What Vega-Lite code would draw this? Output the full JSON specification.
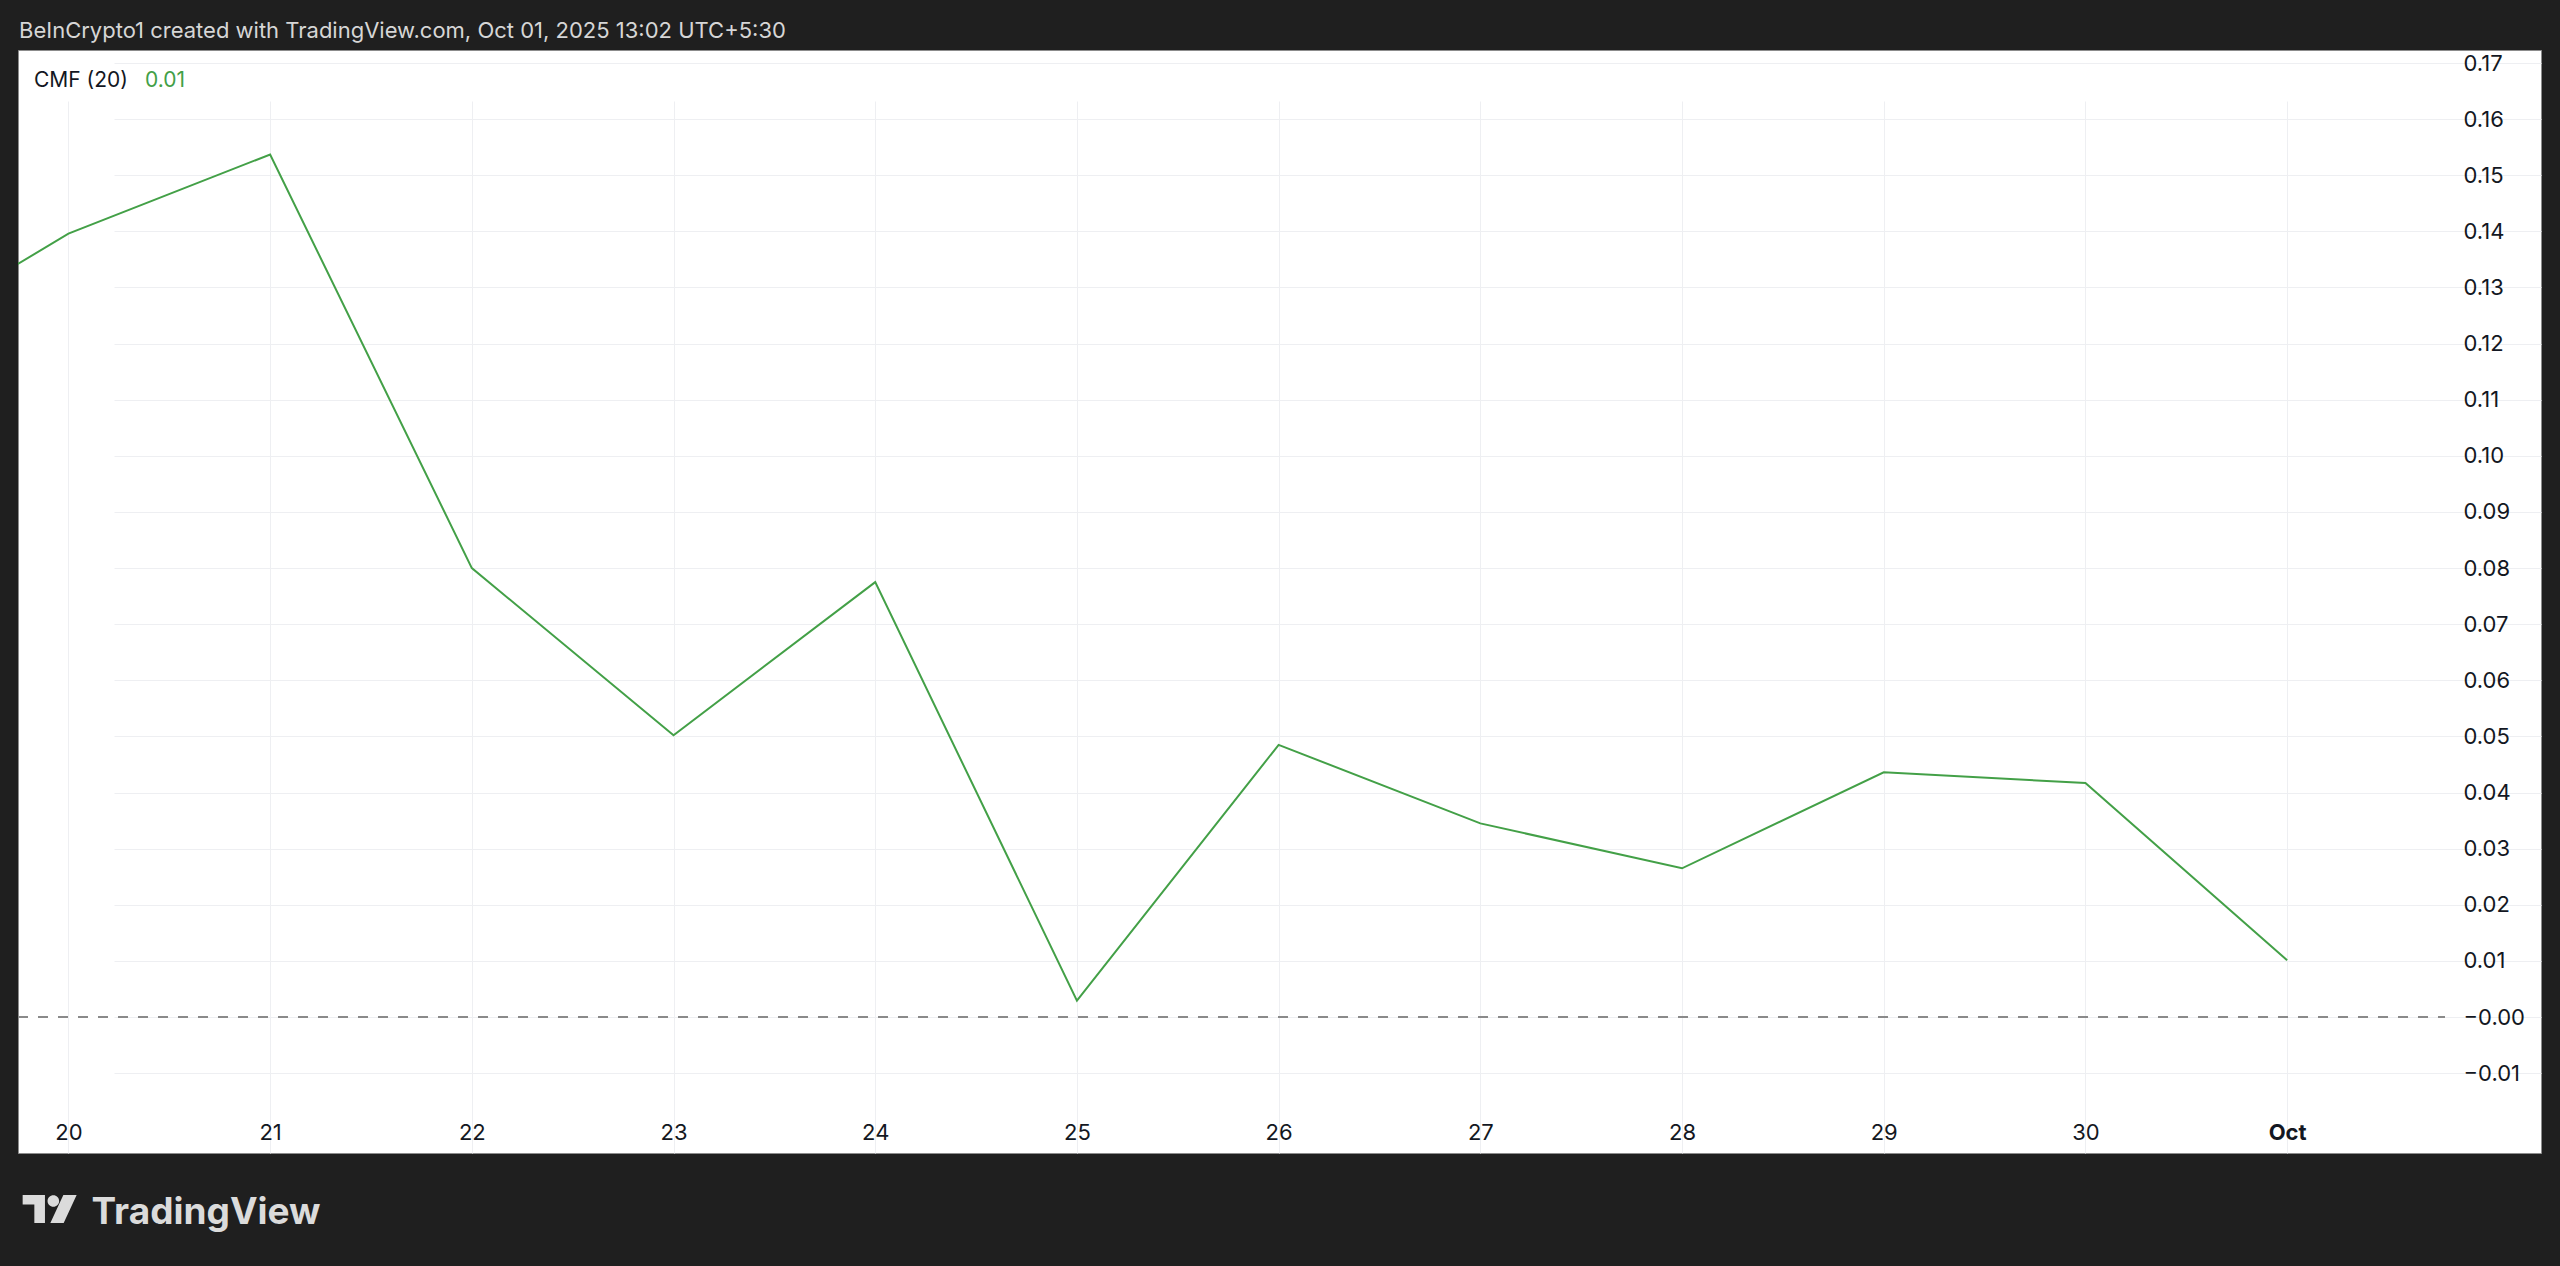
{
  "$schema": "https://vega.github.io/schema/vega-lite/v6.json",
  "width": 2523,
  "height": 1103,
  "autosize": "none",
  "padding": {"left": 18, "top": 50, "right": 19, "bottom": 113},
  "background": "#1f1f1f",
  "config": {
    "view": {"fill": "#ffffff", "stroke": "#8c8c8c", "strokeWidth": 1},
    "font": "Inter"
  },
  "title": {
    "text": "BeInCrypto1 created with TradingView.com, Oct 01, 2025 13:02 UTC+5:30",
    "anchor": "start",
    "frame": "group",
    "orient": "top",
    "baseline": "alphabetic",
    "offset": 14,
    "dx": 1,
    "dy": 24,
    "font": "Inter",
    "fontSize": 22,
    "fontWeight": "normal",
    "color": "#d6d6d6"
  },
  "data": {
    "values": [
      {"date": "2025-09-19", "cmf": 0.118},
      {"date": "2025-09-20", "cmf": 0.1396},
      {"date": "2025-09-21", "cmf": 0.1537},
      {"date": "2025-09-22", "cmf": 0.0800},
      {"date": "2025-09-23", "cmf": 0.0502},
      {"date": "2025-09-24", "cmf": 0.0775},
      {"date": "2025-09-25", "cmf": 0.0029},
      {"date": "2025-09-26", "cmf": 0.0485},
      {"date": "2025-09-27", "cmf": 0.0345},
      {"date": "2025-09-28", "cmf": 0.0265},
      {"date": "2025-09-29", "cmf": 0.0436},
      {"date": "2025-09-30", "cmf": 0.0417},
      {"date": "2025-10-01", "cmf": 0.0101}
    ]
  },
  "layer": [
    {
      "mark": {"type": "rule", "color": "#8a8a8a", "strokeWidth": 2, "strokeDash": [10, 10]},
      "encoding": {
        "x": {"datum": {"year": 2025, "month": 9, "date": 19, "hours": 18, "utc": true}, "type": "temporal"},
        "x2": {"datum": {"year": 2025, "month": 10, "date": 1, "hours": 18, "minutes": 47, "utc": true}},
        "y": {"datum": 0, "type": "quantitative"}
      }
    },
    {
      "mark": {"type": "line", "color": "#43a047", "strokeWidth": 2, "clip": true},
      "encoding": {
        "x": {
          "field": "date",
          "type": "temporal",
          "scale": {
            "type": "utc",
            "domain": [
              {"year": 2025, "month": 9, "date": 19, "hours": 18, "utc": true},
              {"year": 2025, "month": 10, "date": 1, "hours": 18, "minutes": 47, "utc": true}
            ],
            "range": [0, 2427],
            "nice": false
          },
          "axis": {
            "orient": "bottom",
            "offset": -51,
            "domain": false,
            "ticks": false,
            "tickSize": 0,
            "tickCount": {"interval": "day", "step": 1},
            "grid": true,
            "gridColor": "#eeeff2",
            "gridWidth": 1,
            "labelExpr": "utcdate(datum.value) === 1 ? utcFormat(datum.value, '%b') : '' + utcdate(datum.value)",
            "labelFontWeight": {"condition": {"test": "utcdate(datum.value) === 1", "value": "bold"}, "value": "normal"},
            "labelFont": "Inter",
            "labelFontSize": 22,
            "labelColor": "#131722",
            "labelPadding": 37,
            "labelBaseline": "alphabetic",
            "labelOverlap": false,
            "labelFlush": false,
            "title": "TradingView",
            "titleX": 73,
            "titleY": 121,
            "titleAlign": "left",
            "titleBaseline": "alphabetic",
            "titleFont": "Inter",
            "titleFontSize": 37,
            "titleFontWeight": "bold",
            "titleColor": "#dbdbdb"
          }
        },
        "y": {
          "field": "cmf",
          "type": "quantitative",
          "scale": {"domain": [-0.015146, 0.17232], "range": [1052, 0], "nice": false, "zero": false},
          "axis": {
            "orient": "right",
            "offset": -96,
            "domain": false,
            "ticks": false,
            "tickSize": 0,
            "values": [-0.01, 0, 0.01, 0.02, 0.03, 0.04, 0.05, 0.06, 0.07, 0.08, 0.09, 0.1, 0.11, 0.12, 0.13, 0.14, 0.15, 0.16, 0.17],
            "grid": true,
            "gridColor": "#eeeff2",
            "gridWidth": 1,
            "labelExpr": "abs(datum.value) < 0.000001 ? '\u22120.00' : format(datum.value, '.2f')",
            "labelAlign": "left",
            "labelBaseline": "middle",
            "labelPadding": 18,
            "labelFont": "Inter",
            "labelFontSize": 22,
            "labelColor": "#131722",
            "labelOverlap": false,
            "title": null
          }
        }
      }
    },
    {
      "data": {"values": [{"label": "CMF (20)"}]},
      "mark": {"type": "text", "align": "left", "baseline": "alphabetic", "font": "Inter", "fontSize": 21, "color": "#131722"},
      "encoding": {
        "x": {"datum": {"year": 2025, "month": 9, "date": 19, "hours": 19, "minutes": 54, "utc": true}, "type": "temporal"},
        "y": {"datum": 0.16577, "type": "quantitative"},
        "text": {"field": "label", "type": "nominal"}
      }
    },
    {
      "transform": [{"filter": "utcFormat(toDate(datum.date), '%Y-%m-%d') === '2025-10-01'"}],
      "mark": {"type": "text", "align": "left", "baseline": "alphabetic", "font": "Inter", "fontSize": 21, "color": "#43a047"},
      "encoding": {
        "x": {"datum": {"year": 2025, "month": 9, "date": 20, "hours": 9, "minutes": 7, "utc": true}, "type": "temporal"},
        "y": {"datum": 0.16577, "type": "quantitative"},
        "text": {"field": "cmf", "type": "quantitative", "format": ".2f"}
      }
    },
    {
      "data": {"values": [{"logo": "TradingView"}]},
      "mark": {
        "type": "point",
        "filled": true,
        "fill": "#dbdbdb",
        "opacity": 1,
        "strokeWidth": 0,
        "size": 2916,
        "shape": "M-1,-0.519 L-0.174,-0.519 L-0.174,0.519 L-0.567,0.519 L-0.567,-0.167 L-1,-0.167 Z M-0.078,-0.296 A0.215,0.215 0 1 0 0.352,-0.296 A0.215,0.215 0 1 0 -0.078,-0.296 Z M0.507,-0.519 L1,-0.519 L0.519,0.519 L0.026,0.519 Z"
      },
      "encoding": {
        "x": {"datum": {"year": 2025, "month": 9, "date": 19, "hours": 21, "minutes": 46, "utc": true}, "type": "temporal"},
        "y": {"datum": -0.03421, "type": "quantitative"}
      }
    }
  ]
}
